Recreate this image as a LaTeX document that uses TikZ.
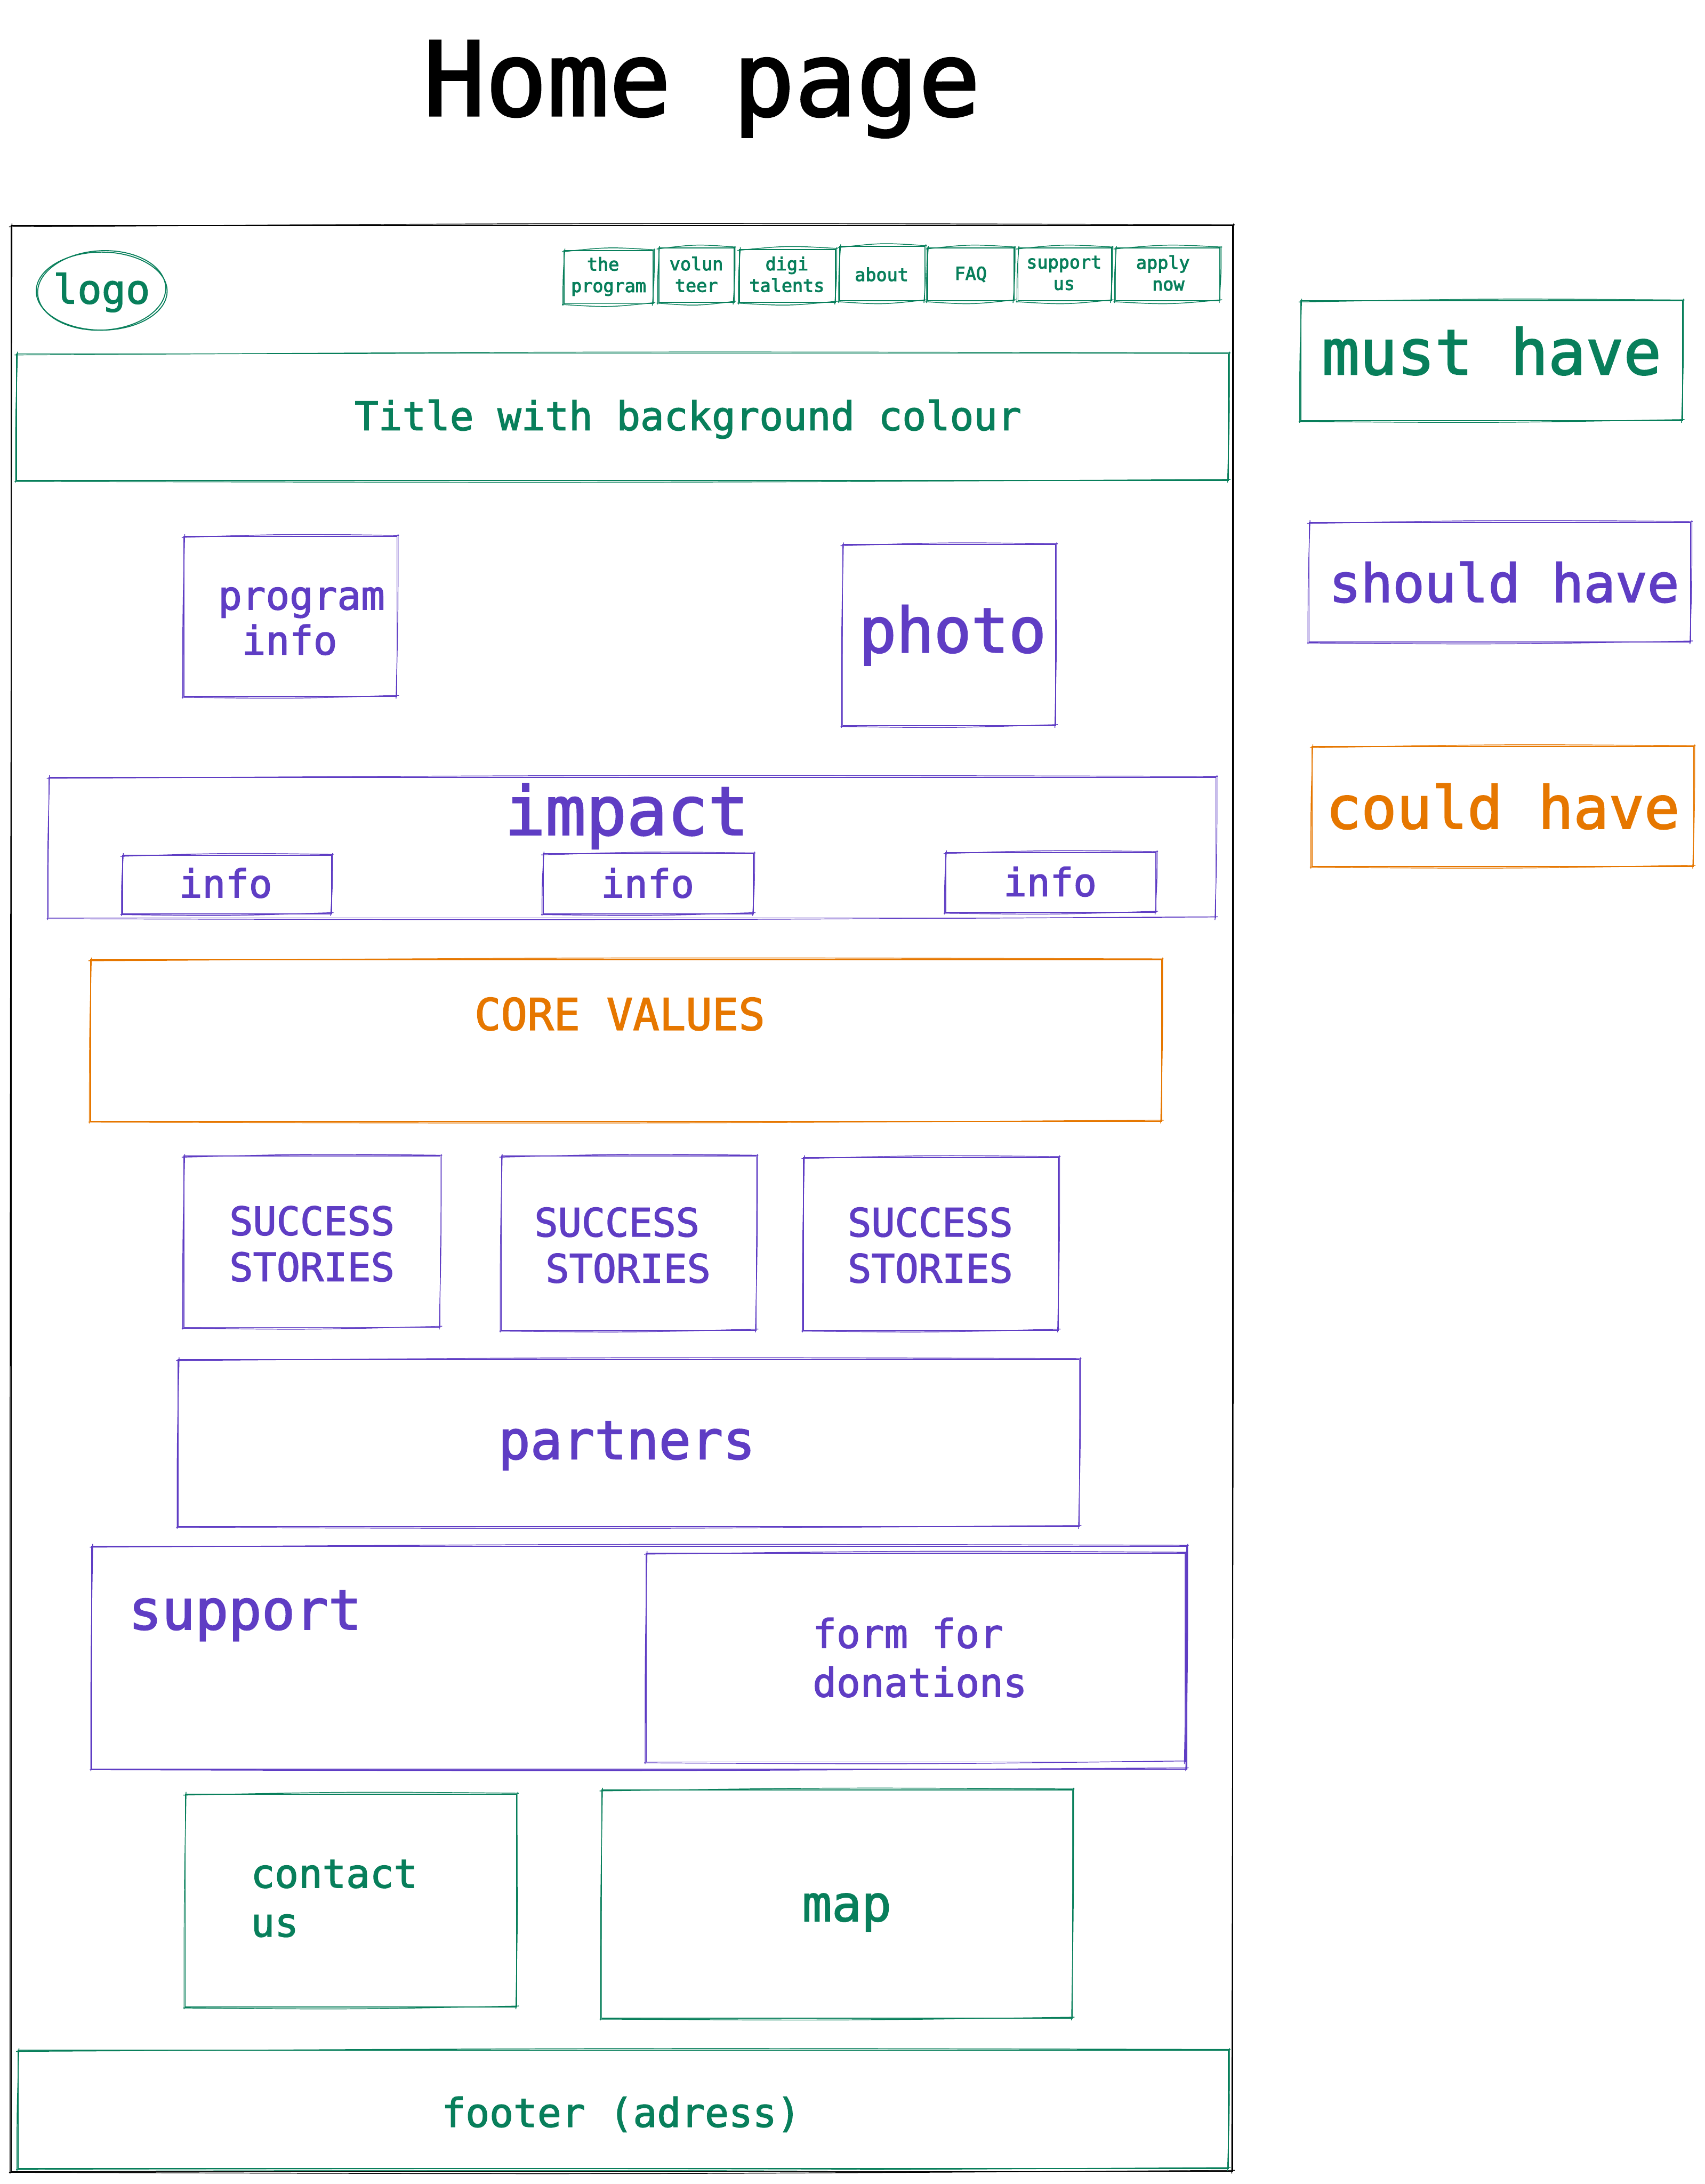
\documentclass[tikz,border=0pt]{standalone}
\usepackage{fontspec}
\setmainfont{DejaVu Sans Mono}[FakeBold=2]
\usetikzlibrary{calc,shapes.geometric}
\definecolor{mustgreen}{HTML}{087F5B}
\definecolor{shouldviolet}{HTML}{5F3DC4}
\definecolor{couldorange}{HTML}{E67700}
\begin{document}
\begin{tikzpicture}[x=0.5mm,y=-0.5mm,
  sz/.style 2 args={minimum width=#1*0.5mm, minimum height=#2*0.5mm},
  fz/.style 2 args={font=\fontsize{#1}{#2}\selectfont},
  plainbox/.style={draw=#1, line width=1pt, inner sep=0pt, outer sep=0pt},
  bowed/.style={to path={.. controls ($(\tikztostart)!0.5!(\tikztotarget)!#1!90:(\tikztotarget)$) .. (\tikztotarget)}},
  sketch/.style 2 args={plainbox=#1,
    append after command={
      ([shift={(-1.5,0.8)}]\tikzlastnode.north west) edge[draw=#1, line width=0.8pt, bowed=#2] ([shift={(1.5,-0.6)}]\tikzlastnode.north east)
      ([shift={(0.8,-1.5)}]\tikzlastnode.north east) edge[draw=#1, line width=0.8pt, bowed=1pt] ([shift={(-0.6,1.5)}]\tikzlastnode.south east)
      ([shift={(1.5,-0.8)}]\tikzlastnode.south east) edge[draw=#1, line width=0.8pt, bowed=#2] ([shift={(-1.5,0.6)}]\tikzlastnode.south west)
      ([shift={(-0.8,1.5)}]\tikzlastnode.south west) edge[draw=#1, line width=0.8pt, bowed=1pt] ([shift={(0.6,-1.5)}]\tikzlastnode.north west)}},
  must/.style={sketch={mustgreen}{2.5pt}},
  navbox/.style={sketch={mustgreen}{4pt}},
  should/.style={sketch={shouldviolet}{2.5pt}},
  could/.style={sketch={couldorange}{2.5pt}},
  musttext/.style={text=mustgreen, inner sep=0pt, align=left},
  shouldtext/.style={text=shouldviolet, inner sep=0pt, align=left},
  couldtext/.style={text=couldorange, inner sep=0pt, align=left},
  navtext/.style={musttext, align=center, font=\fontsize{18.2}{22}\selectfont\addfontfeature{FakeBold=3}}]
\useasboundingbox (0,0) rectangle (1224,1568);

\node[fz={105}{120}, inner sep=0pt] (heading) at (504,64) {Home page};
\node[sketch={black}{3pt}, sz={877}{1397}] (frame) at (446.5,860.5) {};

% header
\node[plainbox=mustgreen, ellipse, sz={94}{56}] (logo) at (73,209) {};
\node[plainbox=mustgreen, ellipse, sz={92}{57}, rotate=3] (logoring) at (73,208.5) {};
\node[musttext, fz={41}{48}] (logotext) at (73,210) {logo};
\node[navbox, sz={64}{38}] (nav1) at (437,199) {};
\node[navbox, sz={54}{39}] (nav2) at (500,197.5) {};
\node[navbox, sz={69}{38}] (nav3) at (565.5,198) {};
\node[navbox, sz={61}{39}] (nav4) at (633.5,196.5) {};
\node[navbox, sz={62}{38}] (nav5) at (697,197) {};
\node[navbox, sz={67}{38}] (nav6) at (764.5,197) {};
\node[navbox, sz={75}{38}] (nav7) at (838.5,197) {};
\node[navtext] (navtext1) at (437,198.5) {the\hspace*{4mm}\\program};
\node[navtext] (navtext2) at (500,197) {volun\\teer};
\node[navtext] (navtext3) at (565,197) {digi\\talents};
\node[navtext] (navtext4) at (633,197) {about};
\node[navtext] (navtext5) at (697,197) {FAQ};
\node[navtext] (navtext6) at (764,196) {support\\us};
\node[navtext] (navtext7) at (835,196) {apply\\\ now};
\node[must, sz={870}{91}] (title) at (447,299.5) {};
\node[musttext, fz={40.4}{47}] (titletext) at (494,301) {Title with background colour};

% intro
\node[should, sz={153}{115}] (program) at (208.5,442.5) {};
\node[shouldtext, fz={40.4}{46}] (programtext) at (216.5,446) {program\\\ info};
\node[should, sz={153}{130}] (photo) at (681.5,456) {};
\node[shouldtext, fz={63.5}{74}] (phototext) at (684,456) {photo};

% impact
\node[should, sz={838}{101}] (impact) at (454,608.5) {};
\node[shouldtext, fz={69}{80}] (impacttext) at (450,586) {impact};
\node[should, sz={150}{42}] (info1) at (163,635) {};
\node[should, sz={151}{43}] (info2) at (465.5,634.5) {};
\node[should, sz={151}{43}] (info3) at (754.5,633.5) {};
\node[shouldtext, fz={39.5}{46}] (infotext1) at (162,634) {info};
\node[shouldtext, fz={39.5}{46}] (infotext2) at (465,634) {info};
\node[shouldtext, fz={39.5}{46}] (infotext3) at (754,633) {info};

% values
\node[could, sz={769}{116}] (core) at (449.5,747) {};
\node[couldtext, fz={44.8}{52}] (coretext) at (445,728) {CORE VALUES};

% stories
\node[should, sz={184}{123}] (story1) at (224,891.5) {};
\node[should, sz={183}{125}] (story2) at (451.5,892.5) {};
\node[should, sz={183}{124}] (story3) at (668.5,893) {};
\node[shouldtext, fz={40}{47}] (storytext1) at (224,893) {SUCCESS\\STORIES};
\node[shouldtext, fz={40}{47}] (storytext2) at (447,894) {SUCCESS\\\hspace*{4mm}STORIES};
\node[shouldtext, fz={40}{47}] (storytext3) at (668,894) {SUCCESS\\STORIES};

% partners and support
\node[should, sz={647}{120}] (partners) at (451.5,1036) {};
\node[shouldtext, fz={54.5}{64}] (partnerstext) at (450,1038) {partners};
\node[should, sz={786}{160}] (support) at (459,1190) {};
\node[shouldtext, fz={56.5}{66}] (supporttext) at (176,1160) {support};
\node[should, sz={387}{150}] (form) at (657.5,1190) {};
\node[shouldtext, fz={40.4}{50}] (formtext) at (660.5,1190) {form for\\donations};

% contact
\node[must, sz={238}{153}] (contact) at (252,1364.5) {};
\node[musttext, fz={40.4}{50}] (contacttext) at (240,1363) {contact\\us};
\node[must, sz={338}{164}] (map) at (601,1367) {};
\node[musttext, fz={50.5}{58}] (maptext) at (608,1373) {map};
\node[must, sz={869}{85}] (footer) at (447.5,1514.5) {};
\node[musttext, fz={40.6}{47}] (footertext) at (446,1518) {footer (adress)};

% legend
\node[must, sz={274}{86}] (legendmust) at (1071,259) {};
\node[musttext, fz={64}{74}] (legendmusttext) at (1071,252) {must have};
\node[should, sz={274}{86}] (legendshould) at (1077,418) {};
\node[shouldtext, fz={54}{62}] (legendshouldtext) at (1080,418) {should have};
\node[could, sz={274}{86}] (legendcould) at (1079,579) {};
\node[couldtext, fz={60}{70}] (legendcouldtext) at (1079,579) {could have};
\end{tikzpicture}
\end{document}
